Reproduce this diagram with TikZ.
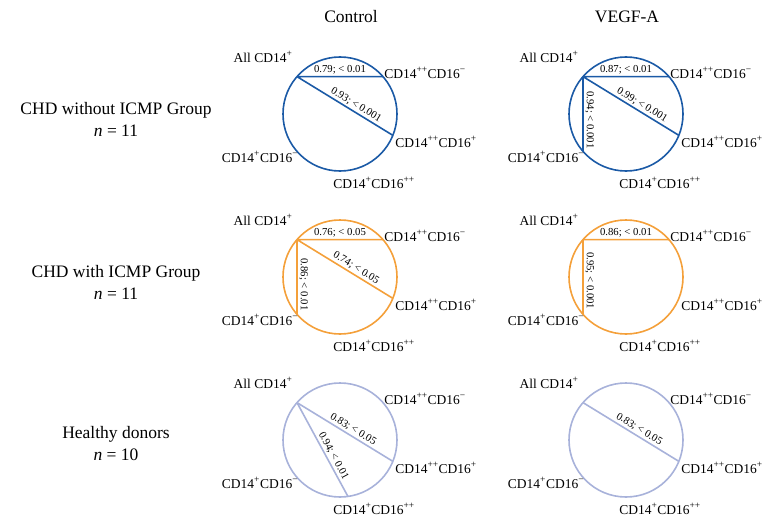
\documentclass[tikz,border=0pt]{standalone}
\usepackage{fontspec}
\setmainfont{Liberation Serif}
\usetikzlibrary{calc}
\definecolor{rowblue}{RGB}{27,90,166}
\definecolor{roworange}{RGB}{244,160,58}
\definecolor{rowlav}{RGB}{168,178,218}
\newcommand{\cdall}{All CD14\textsuperscript{+}}
\newcommand{\cdppm}{CD14\textsuperscript{++}CD16\textsuperscript{−}}
\newcommand{\cdppp}{CD14\textsuperscript{++}CD16\textsuperscript{+}}
\newcommand{\cdpdp}{CD14\textsuperscript{+}CD16\textsuperscript{++}}
\newcommand{\cdpm}{CD14\textsuperscript{+}CD16\textsuperscript{−}}
\begin{document}
\begin{tikzpicture}[x=1pt,y=1pt,
    ring/.style={line width=1.6pt},
    cell/.style={font=\fontsize{13.5}{16}\selectfont,inner sep=0pt},
    corr/.style={font=\fontsize{10.7}{12}\selectfont,inner sep=1.5pt,text=black},
    head/.style={font=\fontsize{17.5}{22}\selectfont,align=center}]
      \useasboundingbox(0,0)rectangle(767,523);
      \node[head] (ctl) at (351,506) {Control};
      \node[head] (vegf) at (627,506) {VEGF-A};
      \foreach \g/\y/\t/\n in{%
        w/403.5/{CHD without ICMP Group}/11, i/241/{CHD with ICMP Group}/11, h/79/{Healthy donors}/10}{%
        \node[head] (\g-grp) at (116,\y) {\t\\\textit{n} = \n};
      }
      \foreach \p/\cx/\cy/\c in{%
        cw/340/409/rowblue, vw/626/409/rowblue, ci/340/246/roworange,
        vi/626/246/roworange, ch/340/83/rowlav, vh/626/83/rowlav}{%
        \draw[ring,\c] (\cx,\cy) circle (57);
        \foreach \q/\a in{all/139, ppm/41, ppp/-22, pdp/-82, pm/221}{%
          \coordinate (\p-\q) at ($(\cx,\cy)+(\a:57)$);
        }
        \node[cell] (\p-l1) at (\cx-77,\cy+57) {\cdall};
        \node[cell] (\p-l2) at (\cx+85,\cy+41) {\cdppm};
        \node[cell] (\p-l3) at (\cx+96,\cy-28) {\cdppp};
        \node[cell] (\p-l4) at (\cx+34,\cy-69) {\cdpdp};
        \node[cell] (\p-l5) at (\cx-80,\cy-43) {\cdpm};
      }
      \draw[ring,rowblue]
           (cw-all)--node[corr,pos=.5,above]{0.79; < 0.01}(cw-ppm)
           (cw-all)--node[corr,pos=.58,sloped,above]{0.93; < 0.001}(cw-ppp)
           (vw-all)--node[corr,pos=.5,above]{0.87; < 0.01}(vw-ppm)
           (vw-all)--node[corr,pos=.58,sloped,above]{0.99; < 0.001}(vw-ppp)
           (vw-all)--node[corr,pos=.58,rotate=-90,anchor=south]{0.94; < 0.001}(vw-pm);
      \draw[ring,roworange]
           (ci-all)--node[corr,pos=.5,above]{0.76; < 0.05}(ci-ppm)
           (ci-all)--node[corr,pos=.58,sloped,above]{0.74; < 0.05}(ci-ppp)
           (ci-all)--node[corr,pos=.6,rotate=-90,anchor=south]{0.86; < 0.01}(ci-pm)
           (vi-all)--node[corr,pos=.5,above]{0.86; < 0.01}(vi-ppm)
           (vi-all)--node[corr,pos=.55,rotate=-90,anchor=south]{0.95; < 0.001}(vi-pm);
      \draw[ring,rowlav]
           (ch-all)--node[corr,pos=.55,sloped,above]{0.83; < 0.05}(ch-ppp)
           (ch-all)--node[corr,pos=.6,sloped,above]{0.94; < 0.01}(ch-pdp)
           (vh-all)--node[corr,pos=.55,sloped,above]{0.83; < 0.05}(vh-ppp);
    \end{tikzpicture}
\end{document}
